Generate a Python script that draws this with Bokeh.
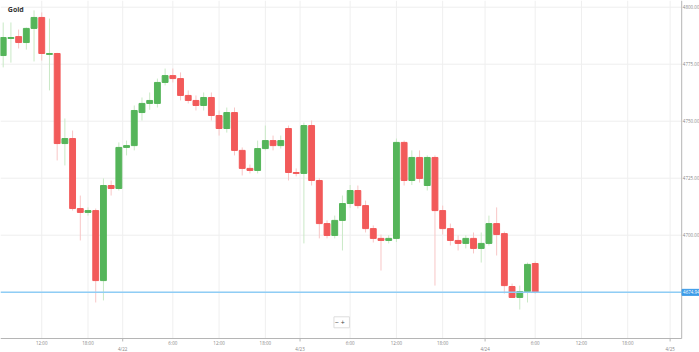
from bokeh.plotting import figure
from bokeh.models import ColumnDataSource, Label, Range1d
from bokeh.core.properties import value
from bokeh.embed import file_html
from bokeh.resources import INLINE

title = "Gold"
opens = [4778.8, 4786.3, 4787.1, 4784.5, 4790.7, 4795.5, 4779.3, 4779.7, 4740.2, 4742.4,
         4711.7, 4710.0, 4710.8, 4680.1, 4721.8, 4720.5, 4738.5, 4739.3, 4753.8, 4757.8,
         4757.8, 4767.0, 4770.0, 4768.7, 4761.3, 4759.1, 4756.9, 4760.4, 4752.5, 4746.8,
         4753.8, 4737.2, 4729.3, 4728.4, 4738.0, 4741.5, 4739.3, 4746.8, 4727.5, 4727.1,
         4748.1, 4724.0, 4705.1, 4699.9, 4706.5, 4713.9, 4719.6, 4713.0, 4702.9, 4698.6,
         4697.7, 4698.6, 4740.7, 4724.0, 4734.1, 4721.8, 4734.1, 4710.8, 4702.9, 4697.7,
         4696.4, 4698.6, 4694.2, 4696.4, 4705.1, 4700.7, 4677.5, 4672.7, 4675.3, 4687.6]
closes = [4786.7, 4786.7, 4784.5, 4790.7, 4795.5, 4779.7, 4779.7, 4740.2, 4742.4, 4711.7,
          4710.0, 4710.8, 4680.1, 4721.8, 4720.5, 4738.5, 4739.3, 4754.7, 4757.8, 4759.1,
          4767.0, 4770.0, 4768.7, 4761.3, 4759.1, 4756.9, 4760.4, 4752.5, 4746.8, 4753.8,
          4737.2, 4729.3, 4728.4, 4738.0, 4741.5, 4739.3, 4741.5, 4727.5, 4727.1, 4748.1,
          4724.0, 4705.1, 4699.9, 4706.5, 4713.9, 4719.6, 4713.0, 4702.9, 4698.6, 4697.7,
          4698.6, 4740.7, 4724.0, 4734.1, 4724.9, 4734.1, 4710.8, 4702.9, 4697.7, 4696.4,
          4698.6, 4694.2, 4696.4, 4705.1, 4700.3, 4677.9, 4672.7, 4675.3, 4687.2, 4674.9]
highs = [4793.3, 4793.3, 4790.2, 4791.1, 4798.6, 4797.7, 4795.0, 4780.0, 4751.2, 4745.9,
         4717.4, 4712.2, 4711.7, 4724.9, 4724.0, 4740.7, 4741.5, 4756.9, 4760.4, 4762.6,
         4768.7, 4773.1, 4773.1, 4771.4, 4763.5, 4761.3, 4762.6, 4762.6, 4754.7, 4756.0,
         4756.0, 4738.5, 4731.0, 4741.5, 4748.1, 4743.7, 4743.7, 4748.1, 4729.3, 4749.4,
         4750.3, 4725.0, 4706.5, 4708.6, 4717.4, 4722.0, 4721.8, 4715.2, 4704.3, 4700.3,
         4700.0, 4742.4, 4741.5, 4737.2, 4737.2, 4735.0, 4735.0, 4713.0, 4705.1, 4699.9,
         4700.0, 4701.2, 4701.2, 4708.6, 4712.2, 4701.6, 4678.8, 4677.9, 4688.0, 4688.5]
lows = [4773.6, 4775.7, 4781.9, 4781.4, 4776.2, 4776.6, 4763.5, 4732.8, 4730.6, 4710.8,
        4697.7, 4708.6, 4670.5, 4671.4, 4717.4, 4719.6, 4735.0, 4737.2, 4750.3, 4755.0,
        4756.0, 4765.7, 4767.0, 4759.1, 4757.8, 4754.7, 4754.7, 4750.3, 4743.7, 4745.0,
        4735.0, 4726.2, 4727.1, 4727.1, 4737.2, 4737.2, 4738.0, 4724.0, 4725.8, 4696.4,
        4721.8, 4698.6, 4698.6, 4698.6, 4693.3, 4712.0, 4711.7, 4701.2, 4696.8, 4684.5,
        4696.4, 4697.0, 4721.8, 4722.0, 4723.1, 4719.6, 4677.9, 4700.3, 4695.5, 4693.3,
        4694.2, 4692.0, 4688.0, 4695.5, 4691.1, 4674.4, 4672.5, 4667.4, 4670.5, 4674.4]

time_ticks = [5, 11, 22, 28, 34, 45, 51, 57, 69, 75, 81]
time_labels = ["12:00", "18:00", "6:00", "12:00", "18:00", "6:00", "12:00", "18:00",
               "6:00", "12:00", "18:00"]
date_ticks = [15.5, 38.5, 62.5, 86.5]
date_labels = ["4/22", "4/23", "4/24", "4/25"]
price_ticks = [4700, 4725, 4750, 4775, 4800]
grid_prices = [4675, 4700, 4725, 4750, 4775, 4800]
last_price = 4674.94

GREEN = "#55b55a"
RED = "#f25a5a"
GREEN_W = "#c9e9c6"
RED_W = "#f8c6c6"
FONT = "Open Sans"
GRID = "#efefef"
AXIS = "#b5b5b5"
LABEL = "#888888"

# layout in data units
X0, XAXIS, X1 = -0.35, 88.0, 90.31         # left edge, price-axis line, right edge
YTOP, YBASE, YBOT = 4802.94, 4654.7, 4648.56  # top, time-axis line, bottom edge
Y_TIME, Y_DATE = 4652.9, 4649.9              # label rows below the axis line

idx = list(range(len(opens)))
up = [c >= o for o, c in zip(opens, closes)]
src = ColumnDataSource(dict(
    x=idx, o=opens, c=closes, h=highs, l=lows,
    top=[max(o, c) for o, c in zip(opens, closes)],
    bot=[min(o, c) for o, c in zip(opens, closes)],
    col=[GREEN if u else RED for u in up],
    wcol=[GREEN_W if u else RED_W for u in up],
))

p = figure(frame_width=699, frame_height=352,
           x_range=Range1d(X0, X1), y_range=Range1d(YBOT, YTOP),
           output_backend="svg", toolbar_location=None, min_border=0,
           x_axis_location=None, y_axis_location=None)
p.outline_line_color = None
p.background_fill_color = "white"
p.border_fill_color = "white"
p.xgrid.grid_line_color = None
p.ygrid.grid_line_color = None

# grid lines
n = len(grid_prices)
p.segment(x0=[X0] * n, y0=grid_prices, x1=[XAXIS] * n, y1=grid_prices,
          line_color=GRID, line_width=1)
vt = time_ticks + date_ticks
p.segment(x0=vt, y0=[YBASE] * len(vt), x1=vt, y1=[YTOP] * len(vt),
          line_color=GRID, line_width=1)

# candles
p.segment(x0="x", y0="l", x1="x", y1="h", source=src, line_color="wcol", line_width=1)
p.vbar(x="x", width=0.76, top="top", bottom="bot", source=src,
       fill_color="col", line_color="col", line_width=1)

# axis lines
p.segment(x0=[X0, XAXIS], y0=[YBASE, YBASE], x1=[XAXIS, XAXIS], y1=[YBASE, YTOP],
          line_color=AXIS, line_width=1)
# small ticks under the axis at day boundaries
p.segment(x0=date_ticks, y0=[YBASE] * len(date_ticks), x1=date_ticks,
          y1=[YBASE - 1.3] * len(date_ticks), line_color=AXIS, line_width=1)

# right price labels
p.text(x=[XAXIS + 0.15] * len(price_ticks), y=price_ticks,
       text=[f"{v:.2f}" for v in price_ticks], text_font=value(FONT),
       text_font_size="4.5px", text_color=LABEL, text_baseline="middle",
       text_align="left")

# bottom labels
p.text(x=time_ticks, y=[Y_TIME] * len(time_ticks), text=time_labels,
       text_font=value(FONT), text_font_size="4.5px", text_color=LABEL,
       text_baseline="middle", text_align="center")
p.text(x=date_ticks, y=[Y_DATE] * len(date_ticks), text=date_labels,
       text_font=value(FONT), text_font_size="4.5px", text_color=LABEL,
       text_baseline="middle", text_align="center")

# last price line + label
p.segment(x0=[X0], y0=[last_price], x1=[XAXIS], y1=[last_price],
          line_color="#8fcdf5", line_width=1.5)
p.add_layout(Label(x=XAXIS + 0.05, y=last_price, text=f"{last_price:.2f}",
                   text_font=FONT, text_font_size="4.5px", text_color="white",
                   text_baseline="middle", text_align="left",
                   background_fill_color="#3c9be8", border_line_color="#3c9be8",
                   padding=1))

# title
p.add_layout(Label(x=0.6, y=4799.2, text=title, text_font=FONT, text_font_size="7px",
                   text_font_style="bold", text_color="#333333", text_baseline="middle"))

# zoom buttons
p.add_layout(Label(x=42.9, y=4661.8, text="\u2212   +", text_font=FONT,
                   text_font_size="7px", text_color="#444444", text_baseline="middle",
                   background_fill_color="white", border_line_color="#dddddd", padding=1))

open("out.html", "w").write(file_html(p, INLINE))
